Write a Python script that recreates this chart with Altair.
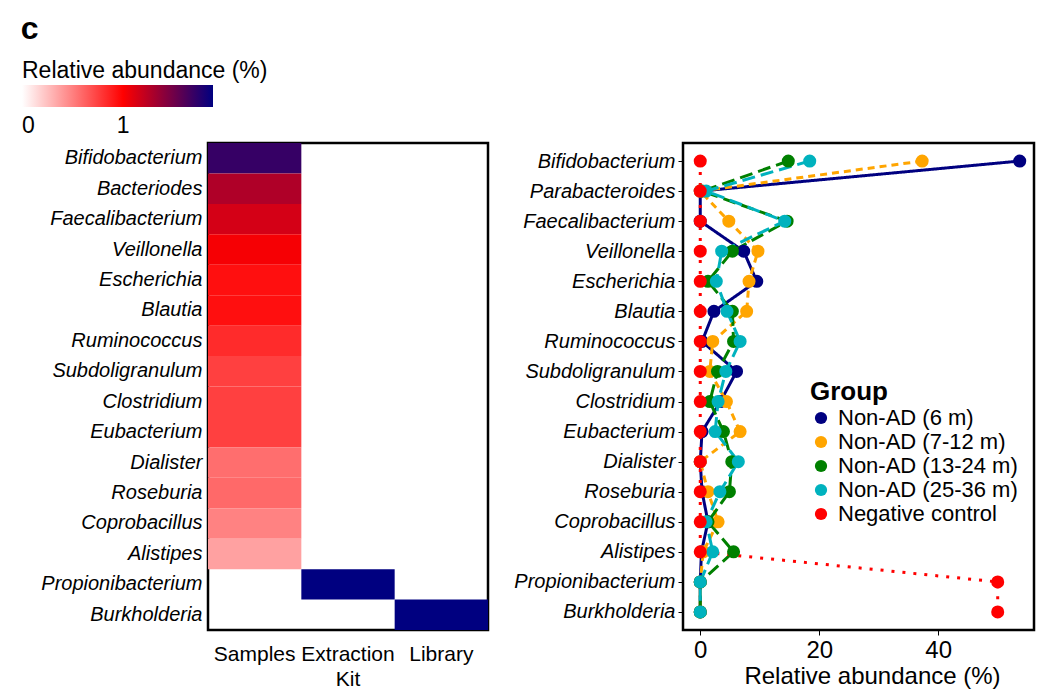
import altair as alt
import pandas as pd

FONT = "Liberation Sans"

# ---------------- heatmap data ----------------
heat_rows = ["Bifidobacterium", "Bacteriodes", "Faecalibacterium", "Veillonella",
             "Escherichia", "Blautia", "Ruminococcus", "Subdoligranulum",
             "Clostridium", "Eubacterium", "Dialister", "Roseburia",
             "Coprobacillus", "Alistipes", "Propionibacterium", "Burkholderia"]
heat_cols = ["Samples", "Extraction Kit", "Library"]
samples_vals = [1.70, 1.28, 1.15, 1.03, 0.94, 0.94, 0.83, 0.75,
                0.75, 0.75, 0.57, 0.59, 0.49, 0.37, None, None]
kit_vals = [None] * 14 + [1.89, None]
library_vals = [None] * 15 + [1.89]

# ---------------- line chart data ----------------
line_rows = ["Bifidobacterium", "Parabacteroides", "Faecalibacterium", "Veillonella",
             "Escherichia", "Blautia", "Ruminococcus", "Subdoligranulum",
             "Clostridium", "Eubacterium", "Dialister", "Roseburia",
             "Coprobacillus", "Alistipes", "Propionibacterium", "Burkholderia"]
groups = ["Non-AD (6 m)", "Non-AD (7-12 m)", "Non-AD (13-24 m)",
          "Non-AD (25-36 m)", "Negative control"]
group_colors = ["#000080", "#FFA500", "#008000", "#00B2BE", "#FF0000"]
group_dash = [[1, 0], [7, 5], [13, 6], [13, 6], [3, 8]]

nonad_6m = [53.7, 0.0, 0.0, 7.3, 9.5, 2.3, 0.3, 6.1, 3.4, 0.3, 0.0, 0.3, 1.3, 0.2, 0.0, 0.0]
nonad_7_12m = [37.3, 0.0, 4.8, 9.7, 8.2, 7.8, 2.1, 1.6, 4.4, 6.7, 0.0, 1.3, 3.0, 0.5, 0.0, 0.0]
nonad_13_24m = [14.8, 0.3, 14.6, 5.4, 1.3, 5.4, 5.6, 2.9, 1.6, 3.9, 5.3, 4.9, 1.3, 5.6, 0.0, 0.0]
nonad_25_36m = [18.4, 1.0, 14.2, 3.6, 2.7, 4.5, 6.7, 4.3, 3.0, 2.5, 6.4, 3.3, 1.0, 2.1, 0.0, 0.0]
neg_control = [0.0, 0.0, 0.0, 0.0, 0.0, 0.0, 0.0, 0.0, 0.0, 0.0, 0.0, 0.0, 0.0, 0.0, 50.0, 50.0]

# ---------------- build tables ----------------
heat_records = []
for col, vals in zip(heat_cols, [samples_vals, kit_vals, library_vals]):
    for r, v in zip(heat_rows, vals):
        if v is not None:
            heat_records.append({"genus": r, "source": col, "value": v})
heat_df = pd.DataFrame(heat_records)

line_records = []
for g, vals in zip(groups, [nonad_6m, nonad_7_12m, nonad_13_24m, nonad_25_36m, neg_control]):
    for i, (r, v) in enumerate(zip(line_rows, vals)):
        line_records.append({"genus": r, "group": g, "value": v, "idx": i,
                             "gorder": groups.index(g)})
line_df = pd.DataFrame(line_records)

# ---------------- heatmap ----------------
heat = alt.Chart(heat_df).mark_rect().encode(
    x=alt.X("source:N", sort=heat_cols, scale=alt.Scale(domain=heat_cols, paddingInner=0, paddingOuter=0),
            axis=alt.Axis(title=None, labelAngle=0, ticks=False, domain=False, labelFont=FONT,
                          labelFontSize=21, labelColor="black", labelPadding=13,
                          labelExpr="split(datum.label, ' ')", labelLineHeight=25,
                          labelBaseline="top", labelLimit=0)),
    y=alt.Y("genus:N", sort=heat_rows, scale=alt.Scale(domain=heat_rows, paddingInner=0, paddingOuter=0),
            axis=alt.Axis(title=None, ticks=False, domain=False, labelFont=FONT,
                          labelFontSize=20, labelFontStyle="italic", labelColor="black",
                          labelPadding=6, labelLimit=0)),
    color=alt.Color("value:Q",
                    scale=alt.Scale(domain=[0, 1, 1.89], range=["#FFFFFF", "#FF0000", "#000080"],
                                    interpolate="rgb"),
                    legend=alt.Legend(title="Relative abundance (%)", orient="none",
                                      direction="horizontal", legendX=-186, legendY=-83,
                                      gradientLength=191, gradientThickness=22,
                                      values=[0, 1], titleFont=FONT, titleFontSize=23,
                                      titleFontWeight="normal", titleColor="black",
                                      titleLimit=0, labelLimit=0,
                                      labelFont=FONT, labelFontSize=23, labelColor="black",
                                      labelAlign="center", titlePadding=2, labelOffset=8,
                                      gradientStrokeWidth=0)),
).properties(width=280, height=487)

# ---------------- lines + points ----------------
y_enc = alt.Y("genus:N", sort=line_rows,
              scale=alt.Scale(type="point", domain=line_rows, padding=0.6),
              axis=alt.Axis(title=None, ticks=True, tickSize=5, tickColor="black", domain=False,
                            labelFont=FONT, labelFontSize=20, labelFontStyle="italic",
                            labelColor="black", labelPadding=3, labelLimit=0))
x_enc = alt.X("value:Q", scale=alt.Scale(domain=[-2.9, 56.1], nice=False, zero=False),
              axis=alt.Axis(title="Relative abundance (%)", values=[0, 20, 40], grid=False,
                            tickSize=5, tickColor="black", domain=False, labelFont=FONT,
                            labelFontSize=24, labelColor="black", titleFont=FONT,
                            titleFontSize=24, titleFontWeight="normal", titleColor="black",
                            labelPadding=3, titlePadding=2, titleX=189, titleAlign="center"))
color_enc = alt.Color("group:N", sort=groups,
                      scale=alt.Scale(domain=groups, range=group_colors),
                      legend=alt.Legend(title="Group", orient="none", legendX=127, legendY=236,
                                        titleFont=FONT, titleFontSize=26, titleFontWeight="bold",
                                        titleColor="black", labelFont=FONT, labelFontSize=22,
                                        labelColor="black", symbolType="circle", symbolSize=150,
                                        symbolStrokeWidth=0, rowPadding=2, titlePadding=2,
                                        labelOffset=6, labelLimit=0, titleLimit=0))

lines = alt.Chart(line_df).mark_line(strokeWidth=3).encode(
    x=x_enc, y=y_enc, color=color_enc,
    strokeDash=alt.StrokeDash("group:N", sort=groups,
                              scale=alt.Scale(domain=groups, range=group_dash), legend=None),
    order=alt.Order("idx:Q"),
    detail="group:N",
)
points = alt.Chart(line_df).mark_circle(size=170, opacity=1).encode(
    x=x_enc, y=y_enc, color=color_enc,
    order=alt.Order("gorder:Q"),
)
right = alt.layer(lines, points).properties(width=351, height=487)

chart = alt.hconcat(heat, right, spacing=22).resolve_scale(
    color="independent", y="independent", x="independent"
).resolve_legend(color="independent").properties(
    title=alt.TitleParams(text="c", anchor="start", fontSize=32, fontWeight="bold",
                          font=FONT, color="black", offset=13),
    padding={"left": 20, "top": 12, "right": 5, "bottom": 5},
    background="white",
).configure_view(stroke="black", strokeWidth=2.5)

chart.save("out.html", embed_options={"renderer": "svg", "actions": False})
